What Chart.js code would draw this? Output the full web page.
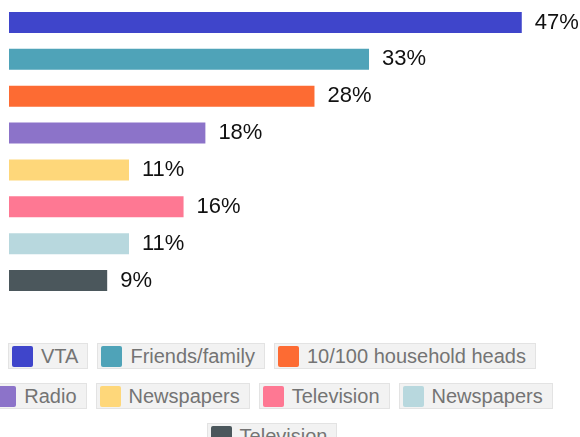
<!DOCTYPE html>
<html>
<head>
<meta charset="utf-8">
<script src="https://cdn.jsdelivr.net/npm/chart.js@4"></script>
<style>
    html, body { margin: 0; padding: 0; background: #fff; overflow: hidden; }
    body { width: 580px; height: 437px; position: relative; font-family: "Liberation Sans", Arial, sans-serif; }
    #wrap { position: absolute; left: 0; top: 0; width: 580px; height: 310px; }
    #legend {
        position: absolute; left: -18px; top: 343px; width: 580px;
        display: flex; flex-wrap: wrap; justify-content: center;
        column-gap: 9px; row-gap: 14px;
    }
    .item {
        display: flex; align-items: center; height: 24px;
        background: #f2f2f2; border: 1px solid #e3e3e3;
        padding: 0 9px 0 3px; color: #747474; font-size: 20px; white-space: nowrap;
    }
    .swatch { width: 21px; height: 21px; border-radius: 2px; margin-right: 8px; }
</style>
</head>
<body>
<div id="wrap"><canvas id="chart"></canvas></div>
<div id="legend"></div>
<script>
// Danh mục và giá trị (%)
const categories = ["VTA", "Friends/family", "10/100 household heads", "Radio", "Newspapers", "Television", "Newspapers", "Television"];
const values = [47, 33, 28, 18, 11, 16, 11, 9];
const colors = ["#3f45cb", "#4fa3b8", "#fd6b33", "#8c73c9", "#fed77a", "#fe7893", "#b8d8de", "#4b575c"];

// Vẽ nhãn phần trăm bên phải mỗi thanh
const valueLabels = {
    id: "valueLabels",
    afterDatasetsDraw(chart) {
        const ctx = chart.ctx;
        const meta = chart.getDatasetMeta(0);
        ctx.save();
        ctx.font = "22px 'Liberation Sans', Arial, sans-serif";
        ctx.fillStyle = "#111";
        ctx.textBaseline = "middle";
        ctx.textAlign = "left";
        meta.data.forEach((bar, i) => {
            ctx.fillText(values[i] + "%", bar.x + 13, bar.y);
        });
        ctx.restore();
    }
};

function createChart() {
    const ctx = document.getElementById("chart").getContext("2d");

    window.myChart = new Chart(ctx, {
        type: "bar",
        data: {
            labels: categories,
            datasets: [{
                data: values,
                backgroundColor: colors,
                borderWidth: 0,
                barPercentage: 0.57,
                categoryPercentage: 1
            }]
        },
        options: {
            indexAxis: "y",
            responsive: true,
            maintainAspectRatio: false,
            animation: false,
            layout: { padding: { left: 9, right: 25.5, top: 4, bottom: 11 } },
            plugins: { legend: { display: false }, tooltip: { enabled: false } },
            scales: {
                x: { display: false, min: 0, max: 50 },
                y: { display: false }
            }
        },
        plugins: [valueLabels]
    });

    // Chú thích HTML
    const legend = document.getElementById("legend");
    categories.forEach((name, i) => {
        const item = document.createElement("div");
        item.className = "item";
        const sw = document.createElement("span");
        sw.className = "swatch";
        sw.style.background = colors[i];
        const txt = document.createElement("span");
        txt.textContent = name;
        item.appendChild(sw);
        item.appendChild(txt);
        legend.appendChild(item);
    });
}

document.addEventListener("DOMContentLoaded", createChart);
</script>
</body>
</html>
